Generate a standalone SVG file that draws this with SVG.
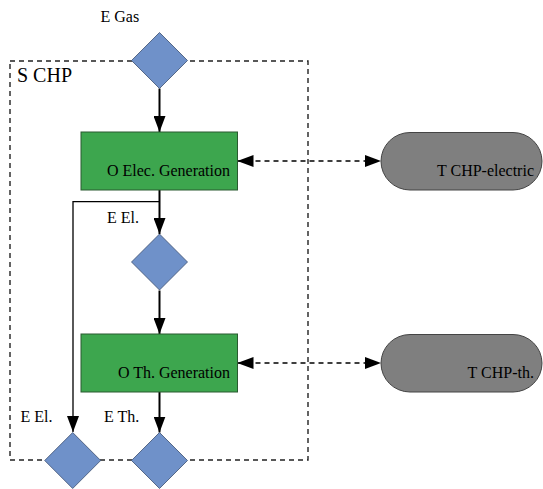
<svg xmlns="http://www.w3.org/2000/svg" width="543" height="489" viewBox="0 0 543 489" font-family="'Liberation Serif', 'Times New Roman', 'DejaVu Serif', serif">
<style>
text{font-family:'Liberation Serif','Times New Roman','DejaVu Serif',serif;font-size:16px;fill:#000}
.op{fill:#3da64e;stroke:#2a5a30;stroke-width:1}
.bus{fill:#6f91c9;stroke:#3c4f70;stroke-width:0.8}
.term{fill:#7f7f7f;stroke:#444;stroke-width:1}
.flow{stroke:#000;stroke-width:2;fill:none}
.thin{stroke:#000;stroke-width:1.3;fill:none}
.dash{stroke:#000;stroke-width:1.5;fill:none;stroke-dasharray:5 4}
.frame{stroke:#222;stroke-width:1.4;fill:none;stroke-dasharray:5 4}
</style>
<defs>
<marker id="ah" markerUnits="userSpaceOnUse" markerWidth="16" markerHeight="12" refX="16" refY="6" orient="auto">
<path d="M0,0 L16,6 L0,12 Z" fill="#000"/>
</marker>
<marker id="ahs" markerUnits="userSpaceOnUse" markerWidth="16" markerHeight="12" refX="16" refY="6" orient="auto-start-reverse">
<path d="M0,0 L16,6 L0,12 Z" fill="#000"/>
</marker>
</defs>
<g id="S_CHP">
<rect class="frame" x="10" y="61" width="298" height="399"/>
<text x="17" y="81.5" style="font-size:20px">S CHP</text>
</g>
<g id="connectors">
<line class="flow" x1="159.5" y1="88.5" x2="159.5" y2="132" marker-end="url(#ah)"/>
<line class="flow" x1="159.5" y1="190" x2="159.5" y2="234" marker-end="url(#ah)"/>
<polyline class="thin" points="159.5,201.7 73,201.7 73,432" marker-end="url(#ah)"/>
<line class="flow" x1="159.5" y1="290.5" x2="159.5" y2="334" marker-end="url(#ah)"/>
<line class="flow" x1="159.5" y1="392" x2="159.5" y2="432.5" marker-end="url(#ah)"/>
<line class="dash" x1="237.5" y1="161" x2="381" y2="161" marker-start="url(#ahs)" marker-end="url(#ahs)"/>
<line class="dash" x1="237.5" y1="363" x2="381" y2="363" marker-start="url(#ahs)" marker-end="url(#ahs)"/>
</g>
<g id="E_Gas">
<polygon class="bus" points="159.5,32.5 187.5,60.5 159.5,88.5 131.5,60.5"/>
<text x="100.5" y="21.7">E Gas</text>
</g>
<g id="O_Elec_Generation">
<rect class="op" x="81" y="132" width="156.5" height="58"/>
<text x="230" y="175.5" text-anchor="end">O Elec. Generation</text>
</g>
<g id="E_El_internal">
<polygon class="bus" points="159.5,234 187.5,262 159.5,290 131.5,262"/>
<text x="107" y="223.3">E El.</text>
</g>
<g id="O_Th_Generation">
<rect class="op" x="81" y="334" width="156.5" height="58"/>
<text x="230" y="377.5" text-anchor="end">O Th. Generation</text>
</g>
<g id="E_El_out">
<polygon class="bus" points="72.7,432.5 100.7,460.5 72.7,488.5 44.7,460.5"/>
<text x="20.5" y="422.3">E El.</text>
</g>
<g id="E_Th">
<polygon class="bus" points="159.5,432.5 187.5,460.5 159.5,488.5 131.5,460.5"/>
<text x="104" y="422.3">E Th.</text>
</g>
<g id="T_CHP_electric">
<rect class="term" x="381" y="132.5" width="161" height="57.5" rx="29" ry="28.75"/>
<text x="534" y="175.5" text-anchor="end">T CHP-electric</text>
</g>
<g id="T_CHP_th">
<rect class="term" x="381" y="334.5" width="161" height="57.5" rx="29" ry="28.75"/>
<text x="534" y="377.5" text-anchor="end">T CHP-th.</text>
</g>
</svg>
